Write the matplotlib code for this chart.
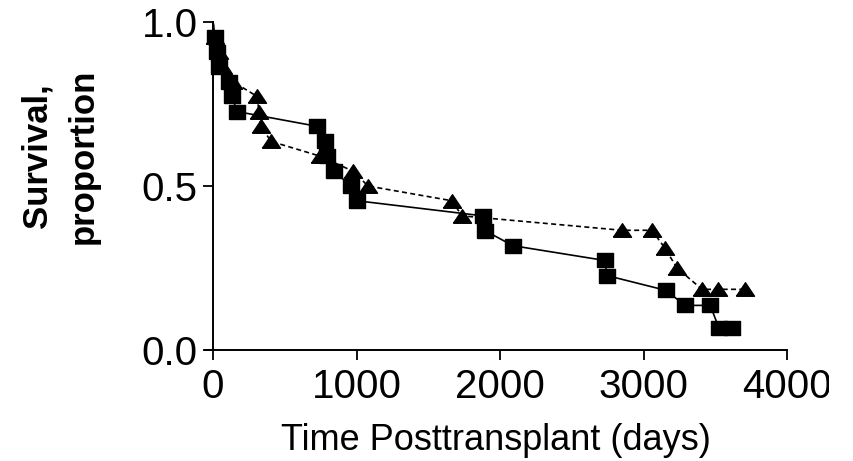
import matplotlib
matplotlib.use("Agg")
import matplotlib.pyplot as plt
from matplotlib.transforms import Bbox, TransformedBbox

plt.rcParams['font.family'] = ['Liberation Sans', 'DejaVu Sans']

# Kaplan-Meier estimates, connected point to point (group drawn with squares)
sq_days = [0, 14, 28, 42, 111, 132, 167, 725, 780, 795, 843, 962, 1003,
           1880, 1895, 2090, 2730, 2745, 3155, 3290, 3465, 3525, 3615]
sq_surv = [1.0, 0.955, 0.909, 0.864, 0.818, 0.773, 0.727, 0.682, 0.636, 0.591,
           0.545, 0.500, 0.455, 0.409, 0.364, 0.318, 0.273, 0.227, 0.182,
           0.136, 0.136, 0.068, 0.068]

# second group (triangles, dashed)
tri_days = [0, 14, 42, 70, 140, 307, 320, 334, 404, 746, 976, 1080, 1665, 1735,
            2850, 3059, 3150, 3233, 3408, 3519, 3707]
tri_surv = [1.0, 0.955, 0.909, 0.864, 0.818, 0.773, 0.727, 0.682, 0.636, 0.591,
            0.545, 0.500, 0.455, 0.409, 0.365, 0.365, 0.310, 0.250, 0.185,
            0.185, 0.185]

x_ticks = [0, 1000, 2000, 3000, 4000]
y_ticks = [0.0, 0.5, 1.0]

W, H = 854, 461
fig = plt.figure(figsize=(W / 100, H / 100), dpi=100)
ax = fig.add_axes([205 / W, 1 - 350 / H, 582 / W, 328 / H])

tri_marker = [(-1, -0.75), (1, -0.75), (0, 0.75), (-1, -0.75)]
sq_marker = [(-1, -0.88), (1, -0.88), (1, 0.88), (-1, 0.88), (-1, -0.88)]

ax.plot(tri_days, tri_surv, color='black', lw=1.2, ls=(0, (3, 2)),
        marker=tri_marker, ms=13, markevery=list(range(1, len(tri_days))),
        clip_on=False, zorder=3)
ax.plot(sq_days, sq_surv, color='black', lw=1.2, ls='-',
        marker=sq_marker, ms=12, markevery=list(range(1, len(sq_days))),
        clip_on=False, zorder=4)

ax.set_xlim(-56, 4000)
ax.set_ylim(0, 1.0)
ax.set_xticks(x_ticks)
ax.set_yticks(y_ticks)
ax.set_yticklabels(['%.1f' % v for v in y_ticks])

for s in ['top', 'right']:
    ax.spines[s].set_visible(False)
ax.spines['left'].set_position(('data', 0))
for s in ['left', 'bottom']:
    ax.spines[s].set_linewidth(1.4)

ax.tick_params(axis='both', direction='out', length=7, width=1.3,
               labelsize=29, color='black')
ax.tick_params(axis='x', pad=6)
ax.tick_params(axis='y', pad=4)

ax.set_xlabel('Time Posttransplant (days)', fontsize=26, labelpad=12)
fig.text(60 / W, 1 - 156 / H, 'Survival,\nproportion', rotation=90,
         ha='center', va='center', multialignment='center',
         fontsize=25, fontweight='bold', linespacing=1.5)

# right edge of the page cuts through the last tick label
clip = TransformedBbox(Bbox([[0, 0], [829 / W, 1]]), fig.transFigure)
for tick in ax.xaxis.get_major_ticks():
    tick.label1.set_clip_box(clip)
    tick.label1.set_clip_on(True)

fig.savefig('out.png', dpi=100)
